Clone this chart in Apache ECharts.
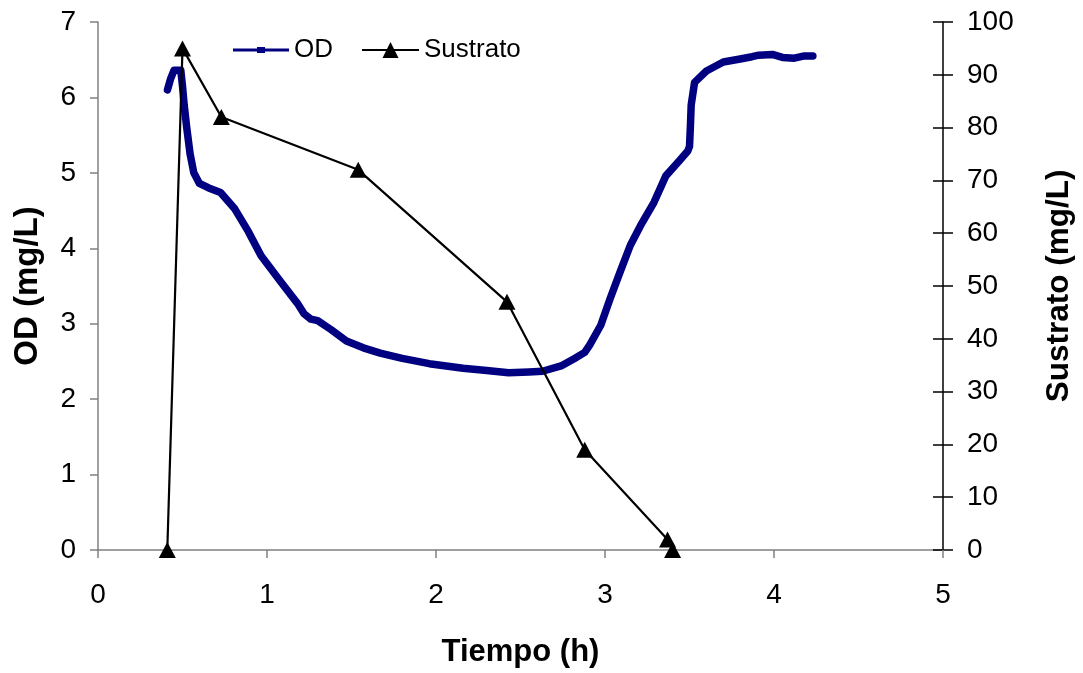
<!DOCTYPE html>
<html>
<head>
<meta charset="utf-8">
<script src="https://cdn.jsdelivr.net/npm/echarts@6/dist/echarts.min.js"></script>
<style>
html,body{margin:0;padding:0;background:#fff;overflow:hidden;}
#chart{width:1083px;height:673px;}
</style>
</head>
<body>
<div id="chart"></div>
<script>
// OD curve (Tiempo h, OD mg/L)
var odTime = [0.411,0.43,0.45,0.47,0.49,0.50,0.51,0.525,0.545,0.567,0.60,0.655,0.725,0.81,0.89,0.965,1.08,1.18,1.22,1.26,1.30,1.38,1.47,1.57,1.67,1.80,1.96,2.16,2.30,2.43,2.55,2.63,2.74,2.82,2.88,2.91,2.975,3.03,3.09,3.15,3.21,3.29,3.36,3.44,3.49,3.50,3.505,3.51,3.53,3.60,3.70,3.80,3.87,3.91,3.99,4.05,4.12,4.18,4.23];
var odValues = [6.10,6.25,6.36,6.36,6.36,6.15,5.90,5.60,5.25,5.00,4.86,4.80,4.74,4.52,4.22,3.90,3.56,3.27,3.13,3.06,3.04,2.92,2.77,2.68,2.61,2.54,2.47,2.41,2.38,2.35,2.36,2.37,2.44,2.54,2.62,2.72,2.98,3.33,3.69,4.04,4.30,4.61,4.96,5.16,5.29,5.35,5.60,5.90,6.20,6.35,6.47,6.51,6.54,6.56,6.57,6.53,6.52,6.55,6.55];
// Sustrato (Tiempo h, Sustrato mg/L)
var subTime = [0.41,0.50,0.73,1.54,2.42,2.88,3.37,3.40];
var subValues = [0,95,82,72,47,19,2,0];
// Axis ticks
var xTicks = [0,1,2,3,4,5];
var yLeftTicks = [0,1,2,3,4,5,6,7];
var yRightTicks = [0,10,20,30,40,50,60,70,80,90,100];

var FONT = 'Liberation Sans, Arial, sans-serif';
function pairs(xs, ys){ return xs.map(function(x,i){ return [x, ys[i]]; }); }

var odIcon = 'path://M0,1.5L56,1.5L56,4.5L0,4.5Z M24,0L32,0L32,6L24,6Z';
var subIcon = 'path://M0,7L57,7L57,9L0,9Z M20.5,16L28.5,0L36.5,16Z';

var chart = echarts.init(document.getElementById('chart'), null, {renderer:'canvas'});
chart.setOption({
  animation:false,
  backgroundColor:'#ffffff',
  textStyle:{fontFamily:FONT},
  grid:{left:98,right:130,top:22,bottom:121,containLabel:false},
  legend:[
    {
      left:228, top:32, itemWidth:56, itemHeight:6, itemGap:0,
      textStyle:{fontSize:26,color:'#000',fontFamily:FONT},
      data:[{name:'OD', icon:odIcon, itemStyle:{color:'#000080'}}]
    },
    {
      left:357, top:32, itemWidth:57, itemHeight:16, itemGap:0,
      textStyle:{fontSize:26,color:'#000',fontFamily:FONT},
      data:[{name:'Sustrato', icon:subIcon, itemStyle:{color:'#000'}}]
    }
  ],
  xAxis:{
    type:'value', min:xTicks[0], max:xTicks[xTicks.length-1], interval:1,
    name:'Tiempo (h)', nameLocation:'middle', nameGap:87,
    nameTextStyle:{fontSize:31,fontWeight:'bold',color:'#000',fontFamily:FONT},
    axisLine:{show:true,lineStyle:{color:'#808080',width:1.5}},
    axisTick:{show:true,inside:false,length:8,lineStyle:{color:'#808080',width:1.5}},
    axisLabel:{fontSize:28,color:'#000',margin:31,fontFamily:FONT},
    splitLine:{show:false}
  },
  yAxis:[
    {
      type:'value', position:'left', min:yLeftTicks[0], max:yLeftTicks[yLeftTicks.length-1], interval:1,
      name:'OD (mg/L)', nameLocation:'middle', nameGap:54, nameRotate:90,
      nameTextStyle:{fontSize:33,fontWeight:'bold',color:'#000',fontFamily:FONT},
      axisLine:{show:true,lineStyle:{color:'#808080',width:1.5}},
      axisTick:{show:true,inside:false,length:8,lineStyle:{color:'#808080',width:1.5}},
      axisLabel:{fontSize:28,color:'#000',margin:22,fontFamily:FONT},
      splitLine:{show:false}
    },
    {
      type:'value', position:'right', min:yRightTicks[0], max:yRightTicks[yRightTicks.length-1], interval:10,
      name:'Sustrato (mg/L)', nameLocation:'middle', nameGap:100, nameRotate:90,
      nameTextStyle:{fontSize:31.5,fontWeight:'bold',color:'#000',fontFamily:FONT},
      axisLine:{show:true,lineStyle:{color:'#000',width:1.5}},
      axisTick:{show:true,inside:false,length:10,lineStyle:{color:'#000',width:1.5}},
      axisLabel:{fontSize:28,color:'#000',margin:24,fontFamily:FONT},
      splitLine:{show:false}
    },
    {
      type:'value', position:'right', min:yRightTicks[0], max:yRightTicks[yRightTicks.length-1], interval:10,
      axisLine:{show:false},
      axisTick:{show:true,inside:true,length:10,lineStyle:{color:'#000',width:1.5}},
      axisLabel:{show:false},
      splitLine:{show:false}
    }
  ],
  series:[
    {
      name:'OD', type:'line', xAxisIndex:0, yAxisIndex:0,
      data:pairs(odTime, odValues),
      symbol:'rect', symbolSize:[10,4], showSymbol:false,
      lineStyle:{color:'#000080',width:7.5,cap:'round',join:'round'},
      itemStyle:{color:'#000080'},
      smooth:false, z:2
    },
    {
      name:'Sustrato', type:'line', xAxisIndex:0, yAxisIndex:1,
      data:pairs(subTime, subValues),
      symbol:'triangle', symbolSize:[17,16], showSymbol:true,
      lineStyle:{color:'#000',width:2.2},
      itemStyle:{color:'#000'},
      smooth:false, z:3
    }
  ]
});
</script>
</body>
</html>
